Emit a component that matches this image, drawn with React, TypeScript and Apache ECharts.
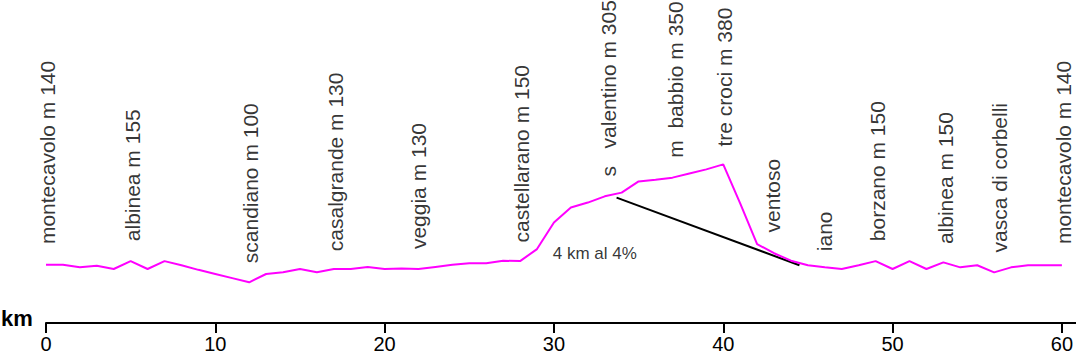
import React, { useEffect, useRef } from "react";
import * as echarts from "echarts";

const profileKm = [0,1,2,3,4,5,6,7,8,9,10,11,12,13,14,15,16,17,18,19,20,21,22,23,24,25,26,27,28,29,30,31,32,33,34,35,36,37,38,39,40,41,42,43,44,45,46,47,48,49,50,51,52,53,54,55,56,57,58,59,60];
const profileElev = [140,140,134,138,130,149,130,149,139,128,118,108,98,118,122,130,122,130,130,135,130,131,130,135,140,144,144,150,149,178,242,278,290,305,314,341,345,350,360,370,382,288,190,168,150,139,134,130,139,149,130,149,130,146,134,139,122,134,139,139,139];

const stationNames = [
  "montecavolo m 140",
  "albinea m 155",
  "scandiano m 100",
  "casalgrande m 130",
  "veggia m 130",
  "castellarano m 150",
  "s   valentino m 305",
  "m  babbio m 350",
  "tre croci m 380",
  "ventoso",
  "iano",
  "borzano m 150",
  "albinea m 150",
  "vasca di corbelli",
  "montecavolo m 140",
];
const stationKm = [0.1, 5.1, 12.05, 17.1, 22.0, 28.1, 33.2, 37.2, 40.1, 42.9, 46.0, 49.1, 53.1, 56.3, 60.1];
const labelBase = [190, 197, 144, 173, 178, 194, 353, 398, 425, 218, 173, 197, 190, 170, 190];

const climbLine = [[33.7, 302], [44.5, 139]];
const climbNote = "4 km al 4%";
const climbNotePos = [29.93, 168];

const tickValues = [0, 10, 20, 30, 40, 50, 60];

const FONT = "'Liberation Sans', Arial, sans-serif";

export default function App() {
  const ref = useRef<HTMLDivElement>(null);
  useEffect(() => {
    document.body.style.margin = "0";
    const chart = echarts.init(ref.current!, null, { renderer: "svg" });
    chart.setOption({
      animation: false,
      grid: { left: 46, right: 0, top: 24, bottom: 30 },
      xAxis: {
        type: "value",
        min: 0,
        max: 60.8,
        interval: 10,
        splitLine: { show: false },
        axisLine: { lineStyle: { color: "#000", width: 2 } },
        axisTick: { customValues: tickValues, length: 10, lineStyle: { color: "#000", width: 2 } },
        axisLabel: { customValues: tickValues, color: "#000", fontSize: 20, fontFamily: FONT, margin: 11 },
      },
      yAxis: { type: "value", min: 0, max: 720, show: false, splitLine: { show: false } },
      graphic: [
        {
          type: "text",
          left: 1,
          top: 307,
          style: { text: "km", fontSize: 22, fontWeight: "bold", fontFamily: FONT, fill: "#000" },
        },
      ],
      series: [
        {
          type: "line",
          data: profileKm.map((k, i) => [k, profileElev[i]]),
          symbol: "none",
          lineStyle: { color: "#ff00ff", width: 2 },
          z: 3,
        },
        {
          type: "line",
          data: climbLine,
          symbol: "none",
          lineStyle: { color: "#000", width: 2 },
          z: 2,
        },
        {
          type: "scatter",
          symbolSize: 0,
          data: stationNames.map((n, i) => ({ name: n, value: [stationKm[i], labelBase[i]] })),
          label: {
            show: true,
            position: "inside",
            rotate: 90,
            align: "left",
            verticalAlign: "middle",
            formatter: "{b}",
            fontSize: 21,
            fontFamily: FONT,
            color: "#000",
          },
          z: 4,
        },
        {
          type: "scatter",
          symbolSize: 0,
          data: [{ name: climbNote, value: climbNotePos }],
          label: {
            show: true,
            position: "inside",
            align: "left",
            verticalAlign: "middle",
            formatter: "{b}",
            fontSize: 17,
            fontFamily: FONT,
            color: "#000",
          },
          z: 4,
        },
      ],
    });
    return () => chart.dispose();
  }, []);
  return <div ref={ref} style={{ width: 1076, height: 354 }} />;
}
